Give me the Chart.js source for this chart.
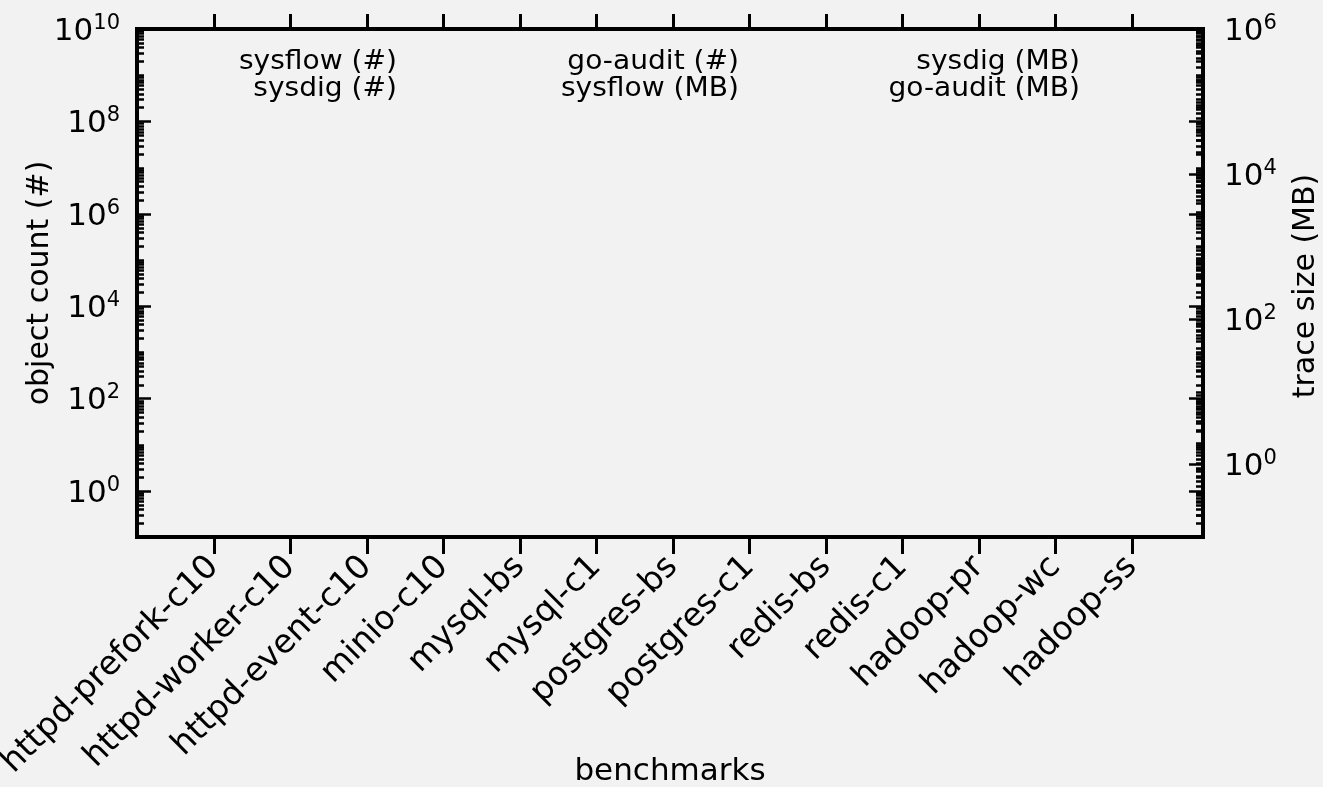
<!DOCTYPE html>
<html>
<head>
<meta charset="utf-8">
<title>trace sizes</title>
<script src="https://cdn.jsdelivr.net/npm/chart.js@4/dist/chart.umd.min.js"></script>
<style>
  html, body { margin: 0; padding: 0; background: #f2f2f2; }
  canvas { display: block; }
</style>
</head>
<body>
<canvas id="trace-graph" width="1323" height="787"></canvas>
<script>
const benchmarks = [
    'httpd-prefork-c10',
    'httpd-worker-c10',
    'httpd-event-c10',
    'minio-c10',
    'mysql-bs',
    'mysql-c1',
    'postgres-bs',
    'postgres-c1',
    'redis-bs',
    'redis-c1',
    'hadoop-pr',
    'hadoop-wc',
    'hadoop-ss',
];
// the picture shows no bars at all, so every value is empty
const sysflowCount = [null, null, null, null, null, null, null, null, null, null, null, null, null];
const sysdigCount = [null, null, null, null, null, null, null, null, null, null, null, null, null];
const goauditCount = [null, null, null, null, null, null, null, null, null, null, null, null, null];
const sysflowSize = [null, null, null, null, null, null, null, null, null, null, null, null, null];
const sysdigSize = [null, null, null, null, null, null, null, null, null, null, null, null, null];
const goauditSize = [null, null, null, null, null, null, null, null, null, null, null, null, null];

// labelled powers of ten on each axis
const countTickExps = [0, 2, 4, 6, 8, 10];
const sizeTickExps = [0, 2, 4, 6];

const FONT = '"DejaVu Sans", Verdana, sans-serif';
Chart.defaults.font.family = FONT;
Chart.defaults.color = '#000';

const toPoints = vals => vals.map((v, i) => ({x: i, y: v}));

function logTicks(min, max) {
    const ticks = [];
    for (let e = Math.floor(Math.log10(min)); e <= Math.ceil(Math.log10(max)); e++) {
        for (let m = 1; m < 10; m++) {
            const v = m * Math.pow(10, e);
            if (v >= min * 0.999 && v <= max * 1.001) ticks.push({value: v});
        }
    }
    return ticks;
}

function drawPower(ctx, exp, x, y, align) {
    ctx.font = '31px ' + FONT;
    const wb = ctx.measureText('10').width;
    ctx.font = '21px ' + FONT;
    const ws = ctx.measureText(String(exp)).width;
    const x0 = align === 'right' ? x - wb - ws : x;
    ctx.textAlign = 'left';
    ctx.textBaseline = 'alphabetic';
    ctx.font = '31px ' + FONT;
    ctx.fillText('10', x0, y + 11);
    ctx.font = '21px ' + FONT;
    ctx.fillText(String(exp), x0 + wb, y);
}

function drawYTicks(ctx, scale, x, dir) {
    scale.ticks.forEach(t => {
        const lg = Math.log10(t.value);
        const e = Math.round(lg);
        const big = Math.abs(lg - e) < 1e-6 && e % 2 === 0;
        const len = big ? 14 : 7;
        const py = Math.round(scale.getPixelForValue(t.value)) + 0.5;
        ctx.beginPath();
        ctx.moveTo(x, py);
        ctx.lineTo(x + dir * len, py);
        ctx.stroke();
    });
}

const background = {
    id: 'background',
    beforeDraw(chart) {
        const {ctx, width, height} = chart;
        ctx.save();
        ctx.fillStyle = '#f2f2f2';
        ctx.fillRect(0, 0, width, height);
        ctx.restore();
    }
};

const frame = {
    id: 'frame',
    afterDraw(chart) {
        const {ctx, chartArea: a, scales} = chart;
        ctx.save();
        ctx.strokeStyle = '#000';
        ctx.fillStyle = '#000';

        // category ticks, outward on top and bottom
        ctx.lineWidth = 3;
        scales.x.ticks.forEach(t => {
            const px = Math.round(scales.x.getPixelForValue(t.value)) + 0.5;
            ctx.beginPath();
            ctx.moveTo(px, a.bottom);
            ctx.lineTo(px, a.bottom + 17);
            ctx.moveTo(px, a.top);
            ctx.lineTo(px, a.top - 15);
            ctx.stroke();
        });

        // log ticks, inward
        ctx.lineWidth = 2.5;
        drawYTicks(ctx, scales.y, a.left, 1);
        drawYTicks(ctx, scales.y, a.right, -1);
        drawYTicks(ctx, scales.y2, a.right, -1);

        ctx.lineWidth = 4;
        ctx.strokeRect(a.left, a.top, a.right - a.left, a.bottom - a.top);

        // tick labels as powers of ten
        countTickExps.forEach(e => drawPower(ctx, e, 120, scales.y.getPixelForValue(Math.pow(10, e)), 'right'));
        sizeTickExps.forEach(e => drawPower(ctx, e, 1224, scales.y2.getPixelForValue(Math.pow(10, e)), 'left'));

        // right axis title reads bottom to top
        ctx.save();
        ctx.translate(1306, (a.top + a.bottom) / 2 + 3);
        ctx.rotate(-Math.PI / 2);
        ctx.font = '30px ' + FONT;
        ctx.textAlign = 'center';
        ctx.textBaseline = 'middle';
        ctx.fillText('trace size (MB)', 0, 0);
        ctx.restore();

        // legend: three columns, text right aligned, no visible handles
        const colRight = [397, 739, 1080];
        const rowBase = [69, 96];
        chart.data.datasets.forEach((ds, i) => {
            ctx.save();
            ctx.translate(colRight[Math.floor(i / 2)], rowBase[i % 2]);
            ctx.scale(1.08, 1);
            ctx.font = '26px ' + FONT;
            ctx.textAlign = 'right';
            ctx.textBaseline = 'alphabetic';
            ctx.fillText(ds.label, 0, 0);
            ctx.restore();
        });
        ctx.restore();
    }
};

const data = {
    datasets: [
        {label: 'sysflow (#)', data: toPoints(sysflowCount), yAxisID: 'y', backgroundColor: '#1f77b4'},
        {label: 'sysdig (#)', data: toPoints(sysdigCount), yAxisID: 'y', backgroundColor: '#ff7f0e'},
        {label: 'go-audit (#)', data: toPoints(goauditCount), yAxisID: 'y', backgroundColor: '#2ca02c'},
        {label: 'sysflow (MB)', data: toPoints(sysflowSize), yAxisID: 'y2', backgroundColor: '#d62728'},
        {label: 'sysdig (MB)', data: toPoints(sysdigSize), yAxisID: 'y2', backgroundColor: '#9467bd'},
        {label: 'go-audit (MB)', data: toPoints(goauditSize), yAxisID: 'y2', backgroundColor: '#8c564b'},
    ]
};

const config = {
    type: 'bar',
    data: data,
    options: {
        responsive: false,
        animation: false,
        devicePixelRatio: 1,
        layout: {padding: {top: 29, left: 0, right: 0, bottom: 0}},
        plugins: {
            legend: {display: false},
            tooltip: {enabled: false}
        },
        scales: {
            x: {
                type: 'linear',
                bounds: 'data',
                offset: false,
                min: -1,
                max: 12.93,
                grid: {display: false},
                border: {display: false},
                afterBuildTicks: s => { s.ticks = benchmarks.map((b, i) => ({value: i})); },
                ticks: {
                    autoSkip: false,
                    minRotation: 45,
                    maxRotation: 45,
                    padding: -10,
                    font: {size: 33, lineHeight: 2.3},
                    callback: v => benchmarks[v]
                },
                title: {
                    display: true,
                    text: 'benchmarks',
                    font: {size: 31, lineHeight: 1},
                    padding: {top: 0, bottom: 0}
                },
                afterFit: s => {
                    s.height = 250;
                    // rotated labels may hang past the plot edges; keep the frame fixed
                    s.paddingLeft = 0;
                    s.paddingRight = 0;
                }
            },
            y: {
                type: 'logarithmic',
                position: 'left',
                min: 0.1,
                max: 1e10,
                grid: {display: false},
                border: {display: false},
                ticks: {display: false},
                afterBuildTicks: s => { s.ticks = logTicks(0.1, 1e10); },
                title: {
                    display: true,
                    text: 'object count (#)',
                    font: {size: 30, lineHeight: 1},
                    padding: {top: 25}
                },
                afterFit: s => { s.width = 137; }
            },
            y2: {
                type: 'logarithmic',
                position: 'right',
                min: 0.1,
                max: 1e6,
                grid: {display: false},
                border: {display: false},
                ticks: {display: false},
                afterBuildTicks: s => { s.ticks = logTicks(0.1, 1e6); },
                afterFit: s => { s.width = 120; }
            }
        }
    },
    plugins: [background, frame]
};

const traceChart = new Chart(
    document.getElementById('trace-graph'),
    config,
);
</script>
</body>
</html>
